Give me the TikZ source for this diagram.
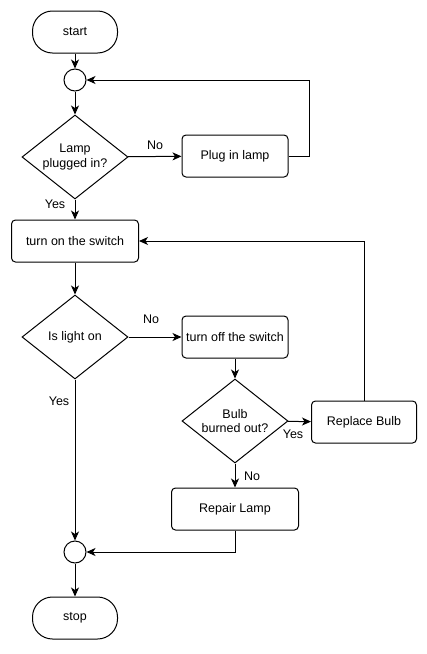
\documentclass[tikz,border=0pt]{standalone}
\usepackage{fontspec}
\setmainfont{Liberation Sans}
\usetikzlibrary{arrows.meta,shapes.geometric}

\begin{document}
\begin{tikzpicture}[x=1pt, y=-1pt, >={Stealth[length=9pt, width=8pt, inset=2.5pt]}, line width=1pt,
    every node/.style={draw, align=center, inner sep=2pt, font=\fontsize{12.5}{14.5}\selectfont},
    term/.style={rectangle, rounded corners=20pt, minimum width=85pt, minimum height=42pt},
    joint/.style={circle, minimum size=22pt, inner sep=0pt},
    box/.style={rectangle, rounded corners=4pt, minimum width=106pt, minimum height=42pt},
    ask/.style={diamond, aspect=1.25, inner sep=0pt, minimum width=106pt, minimum height=84pt},
    lbl/.style={draw=none, inner sep=0pt}]
    \useasboundingbox (0,0) rectangle (427,654);
    \node[term] (start) at (75,32) {start};
    \node[joint] (j1) at (75,80) {};
    \node[ask] (plugged) at (75,157) {Lamp\\plugged in?};
    \node[box] (plug) at (235,156) {Plug in lamp};
    \node[box, minimum width=127pt] (on) at (75,241) {turn on the switch};
    \node[ask] (light) at (75,337) {Is light on};
    \node[box] (off) at (235,337) {turn off the switch};
    \node[ask] (bulb) at (235,421) {Bulb\\burned out?};
    \node[box, minimum width=105pt] (replace) at (364,422) {Replace Bulb};
    \node[box, minimum width=127pt] (repair) at (235,509) {Repair Lamp};
    \node[joint] (j2) at (75,552) {};
    \node[term] (stop) at (75,618) {stop};
    %labels
    \node[lbl] (no1) at (155,145) {No};
    \node[lbl] (yes1) at (55,204) {Yes};
    \node[lbl] (no2) at (151,319) {No};
    \node[lbl] (yes2) at (59,401) {Yes};
    \node[lbl] (yes3) at (293,434) {Yes};
    \node[lbl] (no3) at (252,476) {No};

    \draw[->] (start) to (j1);
    \draw[->] (j1) to (plugged);
    \draw[->] (plugged) to (plug);
    \draw[->] (plug.east) -- ++(21,0) |- (j1);
    \draw[->] (plugged) to (on);
    \draw[->] (on) to (light);
    \draw[->] (light) to (off);
    \draw[->] (off) to (bulb);
    \draw[->] (bulb) to (replace);
    \draw[->] (replace) |- (on);
    \draw[->] (bulb) to (repair);
    \draw[->] (light) to (j2);
    \draw[->] (repair) |- (j2);
    \draw[->] (j2) to (stop);
\end{tikzpicture}
\end{document}
